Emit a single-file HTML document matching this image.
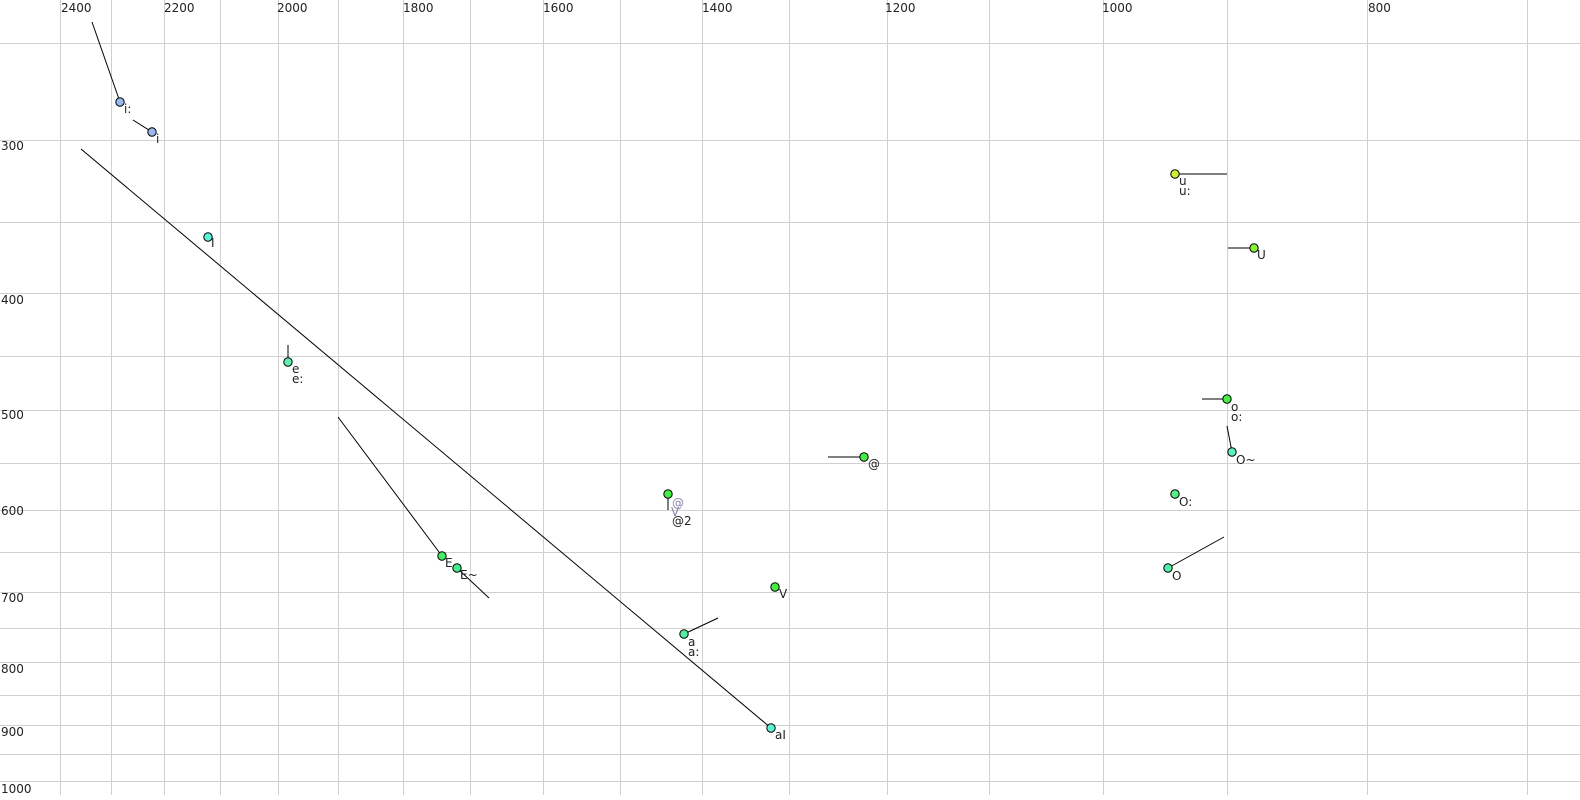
<!DOCTYPE html>
<html><head><meta charset="utf-8"><style>
html,body{margin:0;padding:0;background:#fff;}
svg{display:block;font-family:"DejaVu Sans","Liberation Sans",sans-serif;}
</style></head><body>
<svg width="1580" height="800" viewBox="0 0 1580 800" xmlns="http://www.w3.org/2000/svg">
<g stroke="#d0d0d0" stroke-width="1" shape-rendering="crispEdges">
<line x1="60.5" y1="0" x2="60.5" y2="795"/><line x1="111.5" y1="0" x2="111.5" y2="795"/>
<line x1="164.5" y1="0" x2="164.5" y2="795"/><line x1="220.5" y1="0" x2="220.5" y2="795"/>
<line x1="278.5" y1="0" x2="278.5" y2="795"/><line x1="338.5" y1="0" x2="338.5" y2="795"/>
<line x1="403.5" y1="0" x2="403.5" y2="795"/><line x1="470.5" y1="0" x2="470.5" y2="795"/>
<line x1="543.5" y1="0" x2="543.5" y2="795"/><line x1="620.5" y1="0" x2="620.5" y2="795"/>
<line x1="702.5" y1="0" x2="702.5" y2="795"/><line x1="789.5" y1="0" x2="789.5" y2="795"/>
<line x1="887.5" y1="0" x2="887.5" y2="795"/><line x1="989.5" y1="0" x2="989.5" y2="795"/>
<line x1="1103.5" y1="0" x2="1103.5" y2="795"/><line x1="1227.5" y1="0" x2="1227.5" y2="795"/>
<line x1="1367.5" y1="0" x2="1367.5" y2="795"/><line x1="1527.5" y1="0" x2="1527.5" y2="795"/>
<line x1="0" y1="43.5" x2="1580" y2="43.5"/><line x1="0" y1="140.5" x2="1580" y2="140.5"/>
<line x1="0" y1="222.5" x2="1580" y2="222.5"/><line x1="0" y1="293.5" x2="1580" y2="293.5"/>
<line x1="0" y1="356.5" x2="1580" y2="356.5"/><line x1="0" y1="410.5" x2="1580" y2="410.5"/>
<line x1="0" y1="463.5" x2="1580" y2="463.5"/><line x1="0" y1="510.5" x2="1580" y2="510.5"/>
<line x1="0" y1="552.5" x2="1580" y2="552.5"/><line x1="0" y1="592.5" x2="1580" y2="592.5"/>
<line x1="0" y1="628.5" x2="1580" y2="628.5"/><line x1="0" y1="662.5" x2="1580" y2="662.5"/>
<line x1="0" y1="695.5" x2="1580" y2="695.5"/><line x1="0" y1="725.5" x2="1580" y2="725.5"/>
<line x1="0" y1="754.5" x2="1580" y2="754.5"/><line x1="0" y1="781.5" x2="1580" y2="781.5"/>
</g>
<g font-size="12" fill="#222">
<text x="61" y="12">2400</text><text x="164" y="12">2200</text><text x="277" y="12">2000</text>
<text x="403" y="12">1800</text><text x="543" y="12">1600</text><text x="702" y="12">1400</text>
<text x="885" y="12">1200</text><text x="1102" y="12">1000</text><text x="1368" y="12">800</text>
<text x="1" y="150">300</text><text x="1" y="304">400</text><text x="1" y="419">500</text>
<text x="1" y="515">600</text><text x="1" y="602">700</text><text x="1" y="673">800</text>
<text x="1" y="736">900</text><text x="1" y="793">1000</text>
</g>
<g stroke="#000" stroke-width="1" fill="none">
<line x1="92" y1="22" x2="120" y2="102"/>
<line x1="133" y1="120" x2="152" y2="132"/>
<line x1="81" y1="149" x2="771" y2="728"/>
<line x1="288" y1="345" x2="288" y2="362"/>
<line x1="338" y1="417" x2="442" y2="556"/>
<line x1="457" y1="568" x2="489" y2="598"/>
<line x1="668" y1="494" x2="668" y2="510"/>
<line x1="684" y1="634" x2="718" y2="618"/>
<line x1="828" y1="457" x2="864" y2="457"/>
<line x1="1175" y1="174" x2="1227" y2="174"/>
<line x1="1228" y1="248" x2="1254" y2="248"/>
<line x1="1202" y1="399" x2="1227" y2="399"/>
<line x1="1227" y1="426" x2="1232" y2="452"/>
<line x1="1168" y1="568" x2="1224" y2="537"/>
</g>
<g stroke="#000" stroke-width="1">
<circle cx="120" cy="102" r="4.2" fill="#99b8f0"/>
<circle cx="152" cy="132" r="4.2" fill="#99b8f0"/>
<circle cx="208" cy="237" r="4.2" fill="#5ff0d8"/>
<circle cx="288" cy="362" r="4.2" fill="#5ff0b0"/>
<circle cx="442" cy="556" r="4.2" fill="#44ee66"/>
<circle cx="457" cy="568" r="4.2" fill="#44ee88"/>
<circle cx="668" cy="494" r="4.2" fill="#44ee44"/>
<circle cx="684" cy="634" r="4.2" fill="#55eea0"/>
<circle cx="775" cy="587" r="4.2" fill="#44ee44"/>
<circle cx="771" cy="728" r="4.2" fill="#5ff0d8"/>
<circle cx="864" cy="457" r="4.2" fill="#44ee44"/>
<circle cx="1175" cy="174" r="4.2" fill="#ccee33"/>
<circle cx="1254" cy="248" r="4.2" fill="#88ee33"/>
<circle cx="1227" cy="399" r="4.2" fill="#44ee44"/>
<circle cx="1232" cy="452" r="4.2" fill="#5ff0c0"/>
<circle cx="1175" cy="494" r="4.2" fill="#55ee88"/>
<circle cx="1168" cy="568" r="4.2" fill="#55eea8"/>
</g>
<g font-size="12" fill="#222">
<text x="124" y="113">i:</text><text x="156" y="143">i</text><text x="211" y="247">I</text>
<text x="292" y="373">e</text><text x="292" y="383">e:</text>
<text x="445" y="567">E</text><text x="460" y="579">E~</text>
<text x="672" y="525">@2</text>
<text x="688" y="646">a</text><text x="688" y="656">a:</text>
<text x="779" y="598">V</text><text x="775" y="739">aI</text>
<text x="868" y="468">@</text>
<text x="1179" y="185">u</text><text x="1179" y="195">u:</text>
<text x="1257" y="259">U</text>
<text x="1231" y="411">o</text><text x="1231" y="421">o:</text>
<text x="1236" y="464">O~</text><text x="1179" y="506">O:</text><text x="1172" y="580">O</text>
</g>
<g font-size="12" fill="#8888aa">
<text x="672" y="507">@</text><text x="671" y="516">V</text>
</g>
</svg>
</body></html>
